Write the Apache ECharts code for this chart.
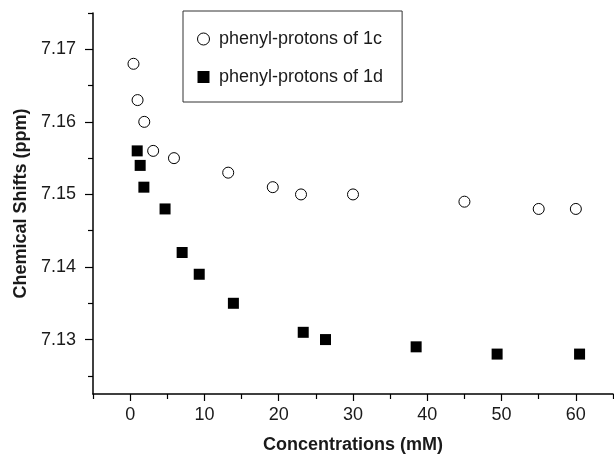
<!DOCTYPE html>
<html>
<head>
<meta charset="utf-8">
<script src="https://cdn.jsdelivr.net/npm/echarts@6/dist/echarts.min.js"></script>
<style>html,body{margin:0;padding:0;background:#fff;}#c{width:614px;height:459px;}</style>
</head>
<body>
<div id="c"></div>
<script>
// Data
var conc1c = [0.45, 1.0, 1.9, 3.1, 5.9, 13.2, 19.2, 23.0, 30.0, 45.0, 55.0, 60.0];
var shift1c = [7.168, 7.163, 7.160, 7.156, 7.155, 7.153, 7.151, 7.150, 7.150, 7.149, 7.148, 7.148];
var conc1d = [0.95, 1.35, 1.85, 4.7, 7.0, 9.3, 13.9, 23.3, 26.3, 38.5, 49.4, 60.5];
var shift1d = [7.156, 7.154, 7.151, 7.148, 7.142, 7.139, 7.135, 7.131, 7.130, 7.129, 7.128, 7.128];
var seriesNames = ['phenyl-protons of 1c', 'phenyl-protons of 1d'];
var xMajorTicks = [0, 10, 20, 30, 40, 50, 60];
var xMinorTicks = [-5, 5, 15, 25, 35, 45, 55, 65];
var yMajorTicks = [7.13, 7.14, 7.15, 7.16, 7.17];
var yMinorTicks = [7.125, 7.135, 7.145, 7.155, 7.165, 7.175];
var xTitle = 'Concentrations (mM)';
var yTitle = 'Chemical Shifts (ppm)';

var FONT = '"Liberation Sans", Arial, sans-serif';
var TXT = '#1a1a1a';
function pair(xs, ys) { return xs.map(function (x, i) { return [x, ys[i]]; }); }

var chart = echarts.init(document.getElementById('c'), null, {renderer: 'canvas'});
var xRange = {min: -5, max: 65};
var yRange = {min: 7.1225, max: 7.175};
chart.setOption({
  animation: false,
  backgroundColor: '#ffffff',
  grid: {left: 93, right: 1, top: 13, bottom: 62, containLabel: false},
  legend: {
    orient: 'vertical', left: 183, top: 11,
    padding: [19, 19, 16, 14],
    itemGap: 20, itemWidth: 21, itemHeight: 12,
    symbolKeepAspect: true,
    borderColor: '#333', borderWidth: 1, borderRadius: 0,
    textStyle: {fontFamily: FONT, fontSize: 18, color: TXT},
    data: [
      {name: seriesNames[0], icon: 'circle', itemStyle: {color: '#fff', borderColor: '#000', borderWidth: 1}},
      {name: seriesNames[1], icon: 'path://M0,0L1,0L1,1L0,1Z', itemStyle: {color: '#000'}}
    ]
  },
  xAxis: [{
    type: 'value', min: xRange.min, max: xRange.max,
    name: xTitle, nameLocation: 'middle', nameGap: 42,
    nameTextStyle: {fontFamily: FONT, fontSize: 18, fontWeight: 'bold', color: TXT},
    axisLine: {show: true, onZero: false, lineStyle: {color: '#000', width: 1.5}},
    axisTick: {show: true, length: 7, customValues: xMajorTicks, lineStyle: {color: '#000', width: 1.2}},
    axisLabel: {customValues: xMajorTicks, margin: 12, fontFamily: FONT, fontSize: 18, color: TXT},
    splitLine: {show: false}
  }, {
    type: 'value', min: xRange.min, max: xRange.max, position: 'bottom',
    axisLine: {show: false, onZero: false},
    axisTick: {show: true, length: 5, customValues: xMinorTicks, lineStyle: {color: '#000', width: 1.2}},
    axisLabel: {show: false},
    splitLine: {show: false}
  }],
  yAxis: [{
    type: 'value', min: yRange.min, max: yRange.max,
    name: yTitle, nameLocation: 'middle', nameGap: 62,
    nameTextStyle: {fontFamily: FONT, fontSize: 18, fontWeight: 'bold', color: TXT},
    axisLine: {show: true, onZero: false, lineStyle: {color: '#000', width: 1.5}},
    axisTick: {show: true, length: 8, customValues: yMajorTicks, lineStyle: {color: '#000', width: 1.2}},
    axisLabel: {customValues: yMajorTicks, margin: 17, fontFamily: FONT, fontSize: 18, color: TXT,
      formatter: function (v) { return v.toFixed(2); }},
    splitLine: {show: false}
  }, {
    type: 'value', min: yRange.min, max: yRange.max, position: 'left',
    axisLine: {show: false, onZero: false},
    axisTick: {show: true, length: 5, customValues: yMinorTicks, lineStyle: {color: '#000', width: 1.2}},
    axisLabel: {show: false},
    splitLine: {show: false}
  }],
  series: [{
    name: seriesNames[0], type: 'scatter', symbol: 'circle', symbolSize: 11,
    itemStyle: {color: '#fff', borderColor: '#000', borderWidth: 1, opacity: 1},
    data: pair(conc1c, shift1c)
  }, {
    name: seriesNames[1], type: 'scatter', symbol: 'rect', symbolSize: 11,
    itemStyle: {color: '#000', opacity: 1},
    data: pair(conc1d, shift1d)
  }]
});
</script>
</body>
</html>
